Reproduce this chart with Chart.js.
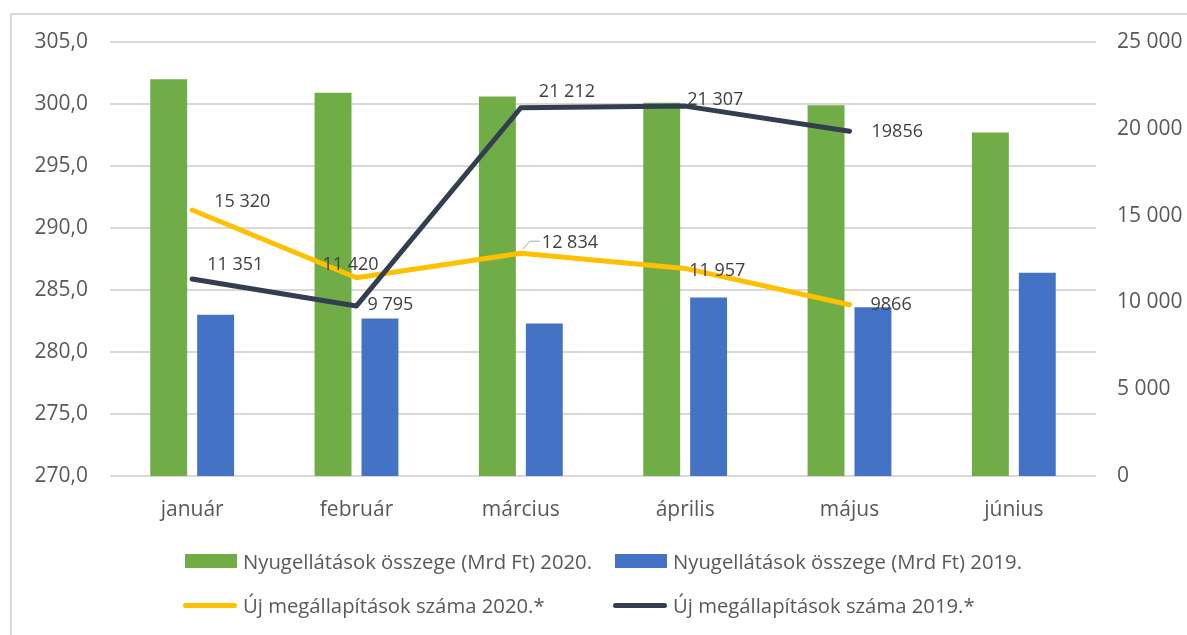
<!DOCTYPE html>
<html>
<head>
<meta charset="utf-8">
<script src="https://cdn.jsdelivr.net/npm/chart.js@4.4.1/dist/chart.umd.min.js"></script>
<style>
    body { margin: 0; width: 1187px; height: 635px; overflow: hidden; background: #fff; font-family: "Open Sans", sans-serif; }
    #frame { position: absolute; left: 10px; top: 13px; width: 1200px; height: 700px; border: 2px solid #d9d9d9; }
    #wrap { position: absolute; left: 0; top: 0; width: 1187px; height: 635px; }
    #legend { position: absolute; left: 183px; top: 547px; display: grid; grid-template-columns: 430px 430px; row-gap: 16px; }
    .item { display: flex; align-items: center; height: 28px; font-size: 20.3px; color: #595959; white-space: nowrap; }
    .box { width: 52px; height: 14px; margin: 0 6px 0 2px; }
    .line { width: 54px; height: 5px; border-radius: 3px; margin-right: 6px; }
</style>
</head>
<body>
<div id="frame"></div>
<div id="wrap"><canvas id="chart"></canvas></div>
<div id="legend"></div>
<script>
const months = ['január', 'február', 'március', 'április', 'május', 'június'];

// Nyugellátások összege (Mrd Ft)
const pension2020 = [302.0, 300.9, 300.6, 300.1, 299.9, 297.7];
const pension2019 = [283.0, 282.7, 282.3, 284.4, 283.6, 286.4];

// Új megállapítások száma
const newAwards2020 = [15320, 11420, 12834, 11957, 9866];
const newAwards2019 = [11351, 9795, 21212, 21307, 19856];
const labels2020 = ['15 320', '11 420', '12 834', '11 957', '9866'];
const labels2019 = ['11 351', '9 795', '21 212', '21 307', '19856'];

// label placement relative to the point (left edge, vertical centre)
const offsets2020 = [[22, -8], [-34, -13], [21, -10], [4, 2], [21, 0]];
const offsets2019 = [[15, -14], [11, -1], [18, -16], [2, -6], [22, 1]];

const green = '#70ad47';
const blue = '#4472c4';
const yellow = '#ffc000';
const navy = '#333f50';

function thousands(v) {
    return String(v).replace(/\B(?=(\d{3})+(?!\d))/g, ' ');
}

const pointLabels = {
    id: 'pointLabels',
    afterDatasetsDraw(chart) {
        const ctx = chart.ctx;
        ctx.save();
        ctx.font = '18px "Open Sans"';
        ctx.fillStyle = '#404040';
        ctx.textAlign = 'left';
        ctx.textBaseline = 'middle';
        [[2, labels2020, offsets2020], [3, labels2019, offsets2019]].forEach(([idx, texts, offs]) => {
            chart.getDatasetMeta(idx).data.forEach((pt, i) => {
                ctx.fillText(texts[i], pt.x + offs[i][0], pt.y + offs[i][1]);
            });
        });
        // leader line for 12 834
        const p = chart.getDatasetMeta(2).data[2];
        ctx.strokeStyle = '#a6a6a6';
        ctx.lineWidth = 1;
        ctx.beginPath();
        ctx.moveTo(p.x + 2, p.y - 4);
        ctx.lineTo(p.x + 9, p.y - 12);
        ctx.lineTo(p.x + 19, p.y - 12);
        ctx.stroke();
        ctx.restore();
    }
};

const chart = new Chart(document.getElementById('chart'), {
    data: {
        labels: months,
        datasets: [{
            type: 'bar',
            label: 'Nyugellátások összege (Mrd Ft) 2020.',
            data: pension2020,
            backgroundColor: green,
            yAxisID: 'y',
            order: 3,
            categoryPercentage: 0.571,
            barPercentage: 0.787
        }, {
            type: 'bar',
            label: 'Nyugellátások összege (Mrd Ft) 2019.',
            data: pension2019,
            backgroundColor: blue,
            yAxisID: 'y',
            order: 3,
            categoryPercentage: 0.571,
            barPercentage: 0.787
        }, {
            type: 'line',
            label: 'Új megállapítások száma 2020.*',
            data: newAwards2020,
            borderColor: yellow,
            borderWidth: 5,
            borderCapStyle: 'round',
            borderJoinStyle: 'round',
            pointRadius: 0,
            yAxisID: 'y1',
            order: 2
        }, {
            type: 'line',
            label: 'Új megállapítások száma 2019.*',
            data: newAwards2019,
            borderColor: navy,
            borderWidth: 5,
            borderCapStyle: 'round',
            borderJoinStyle: 'round',
            pointRadius: 0,
            yAxisID: 'y1',
            order: 1
        }]
    },
    options: {
        responsive: true,
        maintainAspectRatio: false,
        animation: false,
        layout: { padding: { top: 42, left: 0, right: 0, bottom: 0 } },
        plugins: {
            legend: { display: false },
            tooltip: { enabled: false }
        },
        scales: {
            x: {
                grid: { display: false },
                border: { display: false },
                ticks: { color: '#595959', font: { family: 'Open Sans', size: 21 }, padding: 13 },
                afterFit: (s) => { s.height = 159; }
            },
            y: {
                position: 'left',
                min: 270,
                max: 305,
                ticks: {
                    stepSize: 5,
                    color: '#595959',
                    font: { family: 'Open Sans', size: 21 },
                    padding: 22,
                    callback: (v) => v.toFixed(1).replace('.', ',')
                },
                grid: { color: '#d9d9d9', lineWidth: 2, drawTicks: false },
                border: { display: false },
                afterFit: (s) => { s.width = 110; }
            },
            y1: {
                position: 'right',
                min: 0,
                max: 25000,
                ticks: {
                    stepSize: 5000,
                    color: '#595959',
                    font: { family: 'Open Sans', size: 21 },
                    padding: 21,
                    callback: (v) => thousands(v)
                },
                grid: { display: false, drawTicks: false },
                border: { display: false },
                afterFit: (s) => { s.width = 91; }
            }
        }
    },
    plugins: [pointLabels]
});

// legend in two aligned columns, like the original
const legend = document.getElementById('legend');
chart.data.datasets.forEach((ds) => {
    const item = document.createElement('div');
    item.className = 'item';
    const mark = document.createElement('span');
    if (ds.type === 'bar') {
        mark.className = 'box';
        mark.style.background = ds.backgroundColor;
    } else {
        mark.className = 'line';
        mark.style.background = ds.borderColor;
    }
    const text = document.createElement('span');
    text.textContent = ds.label;
    item.appendChild(mark);
    item.appendChild(text);
    legend.appendChild(item);
});
</script>
</body>
</html>
